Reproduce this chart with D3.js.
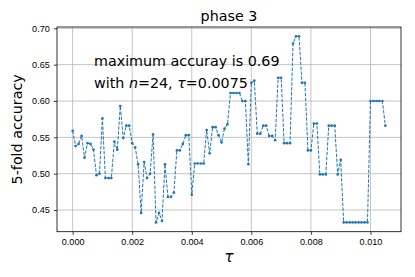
<!DOCTYPE html>
<html lang="en">
  <head>
    <meta charset="UTF-8" />
    <title>phase 3</title>
    <style>
      body { margin: 0; background: #fff; }
      svg { display: block; font-family: "DejaVu Sans", sans-serif; }
      .grid line { stroke: #b0b0b0; stroke-width: 0.75; }
      .axis path { display: none; }
      .axis line { stroke: #000; stroke-width: 0.75; }
      .axis text { font-size: 9.1px; fill: #000; }
    </style>
  </head>
  <body>
    <svg width="415" height="277"></svg>
    <script src="https://d3js.org/d3.v7.min.js"></script>
    <script>
      // tau steps 0 .. 0.0105 (every 0.0001)
      const tauStep = 0.0001;
      const accuracy = [
        0.559, 0.538, 0.541, 0.552, 0.522, 0.542, 0.541, 0.533, 0.498, 0.500,
        0.576, 0.494, 0.494, 0.494, 0.544, 0.533, 0.593, 0.549, 0.566, 0.566,
        0.542, 0.536, 0.513, 0.446, 0.516, 0.494, 0.500, 0.554, 0.433, 0.446,
        0.435, 0.513, 0.468, 0.468, 0.474, 0.532, 0.532, 0.541, 0.553, 0.553,
        0.471, 0.514, 0.514, 0.514, 0.514, 0.560, 0.528, 0.564, 0.564, 0.553,
        0.543, 0.562, 0.568, 0.611, 0.611, 0.611, 0.611, 0.600, 0.600, 0.513,
        0.625, 0.628, 0.555, 0.555, 0.566, 0.566, 0.552, 0.552, 0.546, 0.632,
        0.632, 0.542, 0.542, 0.542, 0.679, 0.689, 0.689, 0.625, 0.625, 0.532,
        0.532, 0.569, 0.569, 0.499, 0.499, 0.499, 0.566, 0.566, 0.566, 0.499,
        0.519, 0.433, 0.433, 0.433, 0.433, 0.433, 0.433, 0.433, 0.433, 0.433,
        0.600, 0.600, 0.600, 0.600, 0.600, 0.566
      ];
      const tau = accuracy.map((d, i) => +(i * tauStep).toFixed(4));
      const xTicks = [0, 0.002, 0.004, 0.006, 0.008, 0.010];
      const yTicks = [0.45, 0.5, 0.55, 0.6, 0.65, 0.7];

      const data = tau.map((t, i) => ({ tau: t, acc: accuracy[i] }));

      let svg = d3.select("svg"),
        margin = { top: 27, right: 14, bottom: 45.3, left: 57 },
        width = +svg.attr("width") - margin.left - margin.right,
        height = +svg.attr("height") - margin.top - margin.bottom;

      // matplotlib style 5% padding
      let pad = (lo, hi) => [lo - (hi - lo) * 0.05, hi + (hi - lo) * 0.05];
      let x = d3.scaleLinear().domain(pad(d3.min(tau), d3.max(tau))).range([0, width]);
      let y = d3.scaleLinear().domain(pad(d3.min(accuracy), d3.max(accuracy))).range([height, 0]);

      let g = svg.append("g")
        .attr("transform", "translate(" + margin.left + "," + margin.top + ")");

      // grid
      let grid = g.append("g").attr("class", "grid");
      grid.selectAll(".gx").data(xTicks).enter().append("line")
        .attr("x1", d => x(d)).attr("x2", d => x(d))
        .attr("y1", 0).attr("y2", height);
      grid.selectAll(".gy").data(yTicks).enter().append("line")
        .attr("x1", 0).attr("x2", width)
        .attr("y1", d => y(d)).attr("y2", d => y(d));

      // axes
      g.append("g")
        .attr("class", "axis")
        .attr("transform", "translate(0," + height + ")")
        .call(d3.axisBottom(x).tickValues(xTicks).tickFormat(d3.format(".3f")).tickSize(3.2).tickPadding(4));
      g.append("g")
        .attr("class", "axis")
        .call(d3.axisLeft(y).tickValues(yTicks).tickFormat(d3.format(".2f")).tickSize(3.2).tickPadding(4));

      // frame
      g.append("rect")
        .attr("width", width).attr("height", height)
        .attr("fill", "none").attr("stroke", "#000").attr("stroke-width", 0.8);

      // series
      let line = d3.line().x(d => x(d.tau)).y(d => y(d.acc));
      g.append("path")
        .datum(data)
        .attr("fill", "none")
        .attr("stroke", "#1f77b4")
        .attr("stroke-width", 1)
        .attr("stroke-dasharray", "3.4,1.5")
        .attr("d", line);
      g.selectAll(".dot").data(data).enter().append("circle")
        .attr("cx", d => x(d.tau)).attr("cy", d => y(d.acc))
        .attr("r", 1.35).attr("fill", "#1f77b4");

      // title and labels
      svg.append("text")
        .attr("x", margin.left + width / 2).attr("y", 20.5)
        .attr("text-anchor", "middle").style("font-size", "14.3px")
        .text("phase 3");
      svg.append("text")
        .attr("transform", "translate(22," + (margin.top + height / 2) + ") rotate(-90)")
        .attr("text-anchor", "middle").style("font-size", "14.3px")
        .text("5-fold accuracy");
      svg.append("text")
        .attr("x", margin.left + width / 2).attr("y", 262)
        .attr("text-anchor", "middle").style("font-size", "15px").style("font-style", "italic")
        .text("τ");

      // annotation
      let ann = svg.append("g").style("font-size", "14.3px");
      ann.append("text").attr("x", 94).attr("y", 65.7).text("maximum accuray is 0.69");
      let l2 = ann.append("text").attr("x", 94).attr("y", 87.5);
      l2.append("tspan").text("with ");
      l2.append("tspan").style("font-style", "italic").text("n");
      l2.append("tspan").text("=24, ");
      l2.append("tspan").style("font-style", "italic").text("τ");
      l2.append("tspan").text("=0.0075");
    </script>
  </body>
</html>
